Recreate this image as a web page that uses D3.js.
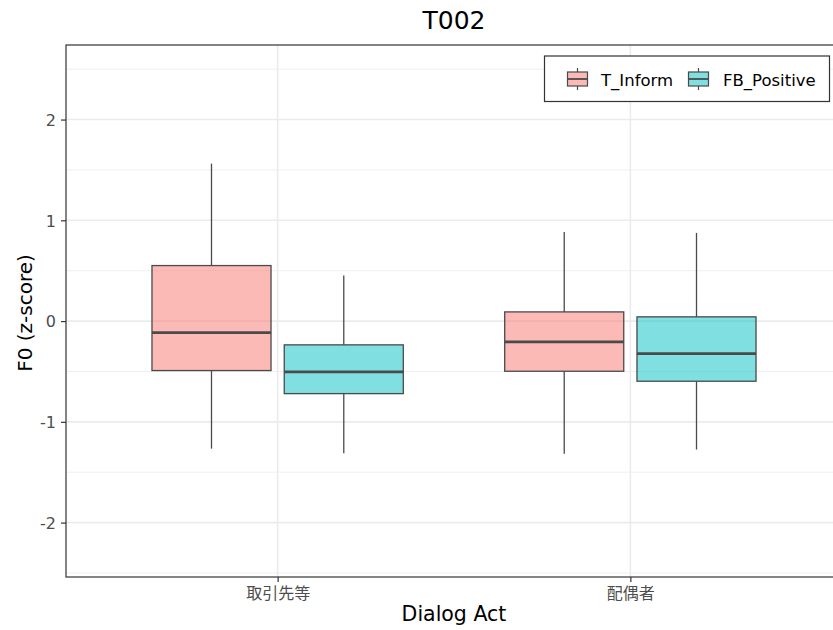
<!DOCTYPE html>
<html><head><meta charset="utf-8">
<script src="https://cdn.jsdelivr.net/npm/d3@7"></script>
<style>
body{margin:0;background:#fff;}
text{font-family:"DejaVu Sans","Noto Sans CJK JP",sans-serif;}
</style></head>
<body><svg id="c" width="833" height="630"></svg>
<script>
const categories = ["取引先等", "配偶者"];
const seriesNames = ["T_Inform", "FB_Positive"];
const seriesColors = ["#F8766D", "#00BFC4"];
// [whiskerLow, Q1, median, Q3, whiskerHigh] per category
const tInform = [[-1.266, -0.491, -0.114, 0.551, 1.563], [-1.318, -0.498, -0.206, 0.091, 0.885]];
const fbPositive = [[-1.312, -0.720, -0.504, -0.236, 0.452], [-1.275, -0.597, -0.323, 0.042, 0.875]];
const yTicks = [-2, -1, 0, 1, 2];
const yMinor = [-2.5, -1.5, -0.5, 0.5, 1.5, 2.5];

const svg = d3.select("#c");
const L = 66, T = 45, B = 577, R = 842;
const y = d3.scaleLinear().domain([-2.54, 2.74]).range([B, T]);
const x = d3.scalePoint().domain(categories).range([L, R]).padding(0.6);
const step = x.step();
const sub = d3.scaleBand().domain(seriesNames).range([-0.375 * step, 0.375 * step]);
const boxW = sub.bandwidth() * 0.9;
const lineCol = "#4A4A4A";

const g = svg.append("g");
// grid
g.selectAll(".minor").data(yMinor).join("line")
  .attr("x1", L).attr("x2", R).attr("y1", d => y(d)).attr("y2", d => y(d))
  .attr("stroke", "#EBEBEB").attr("stroke-width", 0.8);
g.selectAll(".major").data(yTicks).join("line")
  .attr("x1", L).attr("x2", R).attr("y1", d => y(d)).attr("y2", d => y(d))
  .attr("stroke", "#EBEBEB").attr("stroke-width", 1.6);
g.selectAll(".vmajor").data(categories).join("line")
  .attr("x1", d => x(d)).attr("x2", d => x(d)).attr("y1", T).attr("y2", B)
  .attr("stroke", "#EBEBEB").attr("stroke-width", 1.6);

// boxes
const series = [tInform, fbPositive];
series.forEach((vals, si) => {
  const name = seriesNames[si];
  categories.forEach((cat, ci) => {
    const s = vals[ci];
    const cx = x(cat) + sub(name) + sub.bandwidth() / 2;
    const bg = g.append("g");
    bg.append("line").attr("x1", cx).attr("x2", cx).attr("y1", y(s[4])).attr("y2", y(s[3]))
      .attr("stroke", lineCol).attr("stroke-width", 1.3);
    bg.append("line").attr("x1", cx).attr("x2", cx).attr("y1", y(s[1])).attr("y2", y(s[0]))
      .attr("stroke", lineCol).attr("stroke-width", 1.3);
    bg.append("rect").attr("x", cx - boxW / 2).attr("width", boxW)
      .attr("y", y(s[3])).attr("height", y(s[1]) - y(s[3]))
      .attr("fill", seriesColors[si]).attr("fill-opacity", 0.5)
      .attr("stroke", lineCol).attr("stroke-width", 1.3);
    bg.append("line").attr("x1", cx - boxW / 2).attr("x2", cx + boxW / 2)
      .attr("y1", y(s[2])).attr("y2", y(s[2]))
      .attr("stroke", lineCol).attr("stroke-width", 2.8);
  });
});

// panel border
svg.append("rect").attr("x", L).attr("y", T).attr("width", R - L).attr("height", B - T)
  .attr("fill", "none").attr("stroke", "#333333").attr("stroke-width", 1.2);

// axes
const ya = svg.append("g").attr("transform", `translate(${L},0)`)
  .call(d3.axisLeft(y).tickValues(yTicks).tickSize(5).tickPadding(5).tickFormat(d => String(d)));
ya.select(".domain").remove();
ya.selectAll("line").attr("stroke", "#333333").attr("stroke-width", 1.2);
ya.selectAll("text").attr("fill", "#4D4D4D").style("font-size", "16px").attr("dy", "0.36em");

const xa = svg.append("g").attr("transform", `translate(0,${B})`)
  .call(d3.axisBottom(x).tickSize(5).tickPadding(5));
xa.select(".domain").remove();
xa.selectAll("line").attr("stroke", "#333333").attr("stroke-width", 1.2);
xa.selectAll("text").attr("fill", "#4D4D4D").style("font-size", "16px")
  .style("font-family", "'Noto Sans CJK JP', sans-serif").attr("y", 22).attr("dy", null);

// titles
svg.append("text").attr("x", (L + R) / 2).attr("y", 29).attr("text-anchor", "middle")
  .style("font-size", "25px").attr("fill", "#000").text("T002");
svg.append("text").attr("x", (L + R) / 2).attr("y", 621).attr("text-anchor", "middle")
  .style("font-size", "20.5px").attr("fill", "#000").text("Dialog Act");
svg.append("text").attr("transform", `translate(32,313) rotate(-90)`)
  .attr("text-anchor", "middle").style("font-size", "20px").attr("fill", "#000").text("F0 (z-score)");

// legend
const lg = svg.append("g");
lg.append("rect").attr("x", 544.5).attr("y", 56).attr("width", 285).attr("height", 45.5)
  .attr("fill", "#fff").attr("stroke", "#333333").attr("stroke-width", 1.2);
const keyX = [567.5, 688.5];
const textX = [601, 723];
seriesNames.forEach((n, i) => {
  const kx = keyX[i];
  const kw = 20;
  lg.append("line").attr("x1", kx + kw / 2).attr("x2", kx + kw / 2).attr("y1", 68).attr("y2", 90)
    .attr("stroke", lineCol).attr("stroke-width", 1.2);
  lg.append("rect").attr("x", kx).attr("y", 72).attr("width", kw).attr("height", 14)
    .attr("fill", "#fff");
  lg.append("rect").attr("x", kx).attr("y", 72).attr("width", kw).attr("height", 14)
    .attr("fill", seriesColors[i]).attr("fill-opacity", 0.5)
    .attr("stroke", lineCol).attr("stroke-width", 1.2);
  lg.append("line").attr("x1", kx).attr("x2", kx + kw).attr("y1", 79).attr("y2", 79)
    .attr("stroke", lineCol).attr("stroke-width", 1.8);
  lg.append("text").attr("x", textX[i]).attr("y", 86).style("font-size", "16.5px")
    .attr("fill", "#000").text(n);
});
</script></body></html>
